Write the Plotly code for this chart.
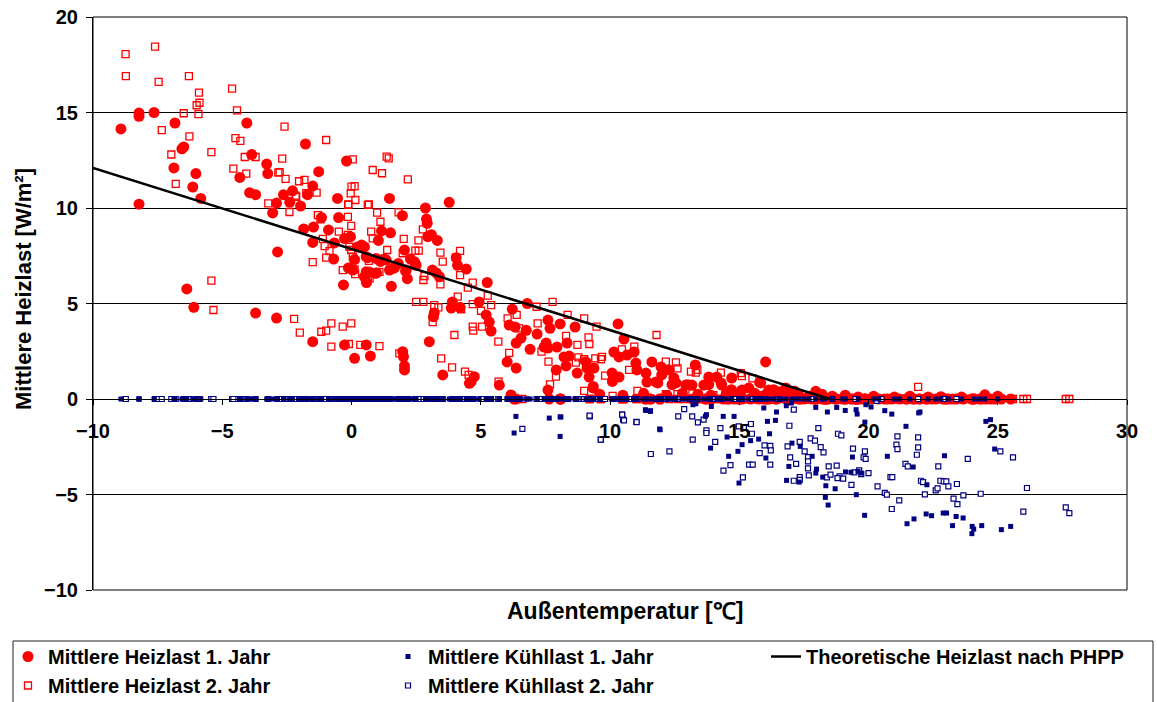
import plotly.graph_objects as go

# ---------------- Year 1 ----------------
# heating days: outdoor temperature [°C] / mean heating load [W/m²]
heat1_temp = [-8.92, -8.22, -8.22, -7.64, -8.22, -6.83, -6.87, -6.56, -6.49, -6.02, -6.14, -5.83, -6.37, -6.10,
              -4.05, -3.86, -4.32, -3.94, -3.71, -3.71, -3.28, -3.24, -3.05, -2.90, -2.86, -2.90, -2.63, -2.39,
              -2.28, -1.97, -1.78, -1.70, -1.50, -1.27, -1.85, -1.50, -1.47, -1.16, -0.89, -0.66, -0.69, -0.54,
              -0.50, -0.19, -0.31, -0.27, -0.04, -0.12, 0.12, 0.23, 0.50, 0.58, 0.62, 0.69, 0.97, 1.04, 1.12,
              1.16, 1.27, 1.47, 1.54, 1.51, 1.47, 1.66, 1.81, 1.97, 2.05, 2.16, 2.12, 2.28, 2.47, 2.86, 2.90,
              2.93, 3.09, 3.32, 3.13, 3.28, 3.40, 3.78, 4.05, 4.10, 3.90, 4.20, 3.17, 0.39, 4.44, 5.25, 3.86,
              4.94, 3.20, 5.21, 5.33, 5.40, 6.22, 6.80, 6.10, 6.33, 6.56, 6.37, 6.76, 6.02, 6.37, 7.18, 6.91,
              7.60, 7.68, 7.53, 7.60, 7.45, 8.07, 7.95, 8.65, 8.34, 7.92, 8.30, 8.73, 7.60, 8.22, 8.42, 9.07,
              9.11, 9.38, 9.19, 9.34, 10.31, 10.54, 10.15, 10.35, 10.66, 10.93, 10.08, 10.15, 10.35, 11.00,
              11.04, 11.39, 11.62, 11.43, 11.78, 11.97, 12.00, 12.28, 12.47, 12.55, 12.93, 13.30, 13.17, 13.63,
              13.82, 14.13, 14.32, 14.71, 15.10, 15.37, 15.83, 16.02, 16.14, 16.53, 16.80, 17.03,
              0.57, 0.95, 1.15, 1.34, 1.60, 0.57, 0.92, 0.05, 0.50, 2.95, 2.43, 2.50, 2.09,
              -1.50, -0.27, 0.57, 0.73, 0.12, 1.98, 2.01, 2.05, 2.05, 3.01, 3.53, 4.56, 4.63, 4.75, 5.72, 6.17,
              9.35, 10.09, 11.85, 12.40, 13.01, 13.82, 14.30, 14.70, 15.79, 16.33, 17.15, 17.96,
              9.60, 10.50, 11.30, 12.20, 12.80, 13.40, 13.90, 14.50, 15.00, 15.60, 16.00, 16.60, 17.30, 17.70,
              18.20, 18.60, 19.10, 19.60, 20.20, 21.00, 21.60, 22.30, 22.80, 23.60, 24.50, 25.00]
heat1_load = [14.14, 14.97, 14.80, 15.00, 10.20, 14.45, 12.10, 13.10, 13.20, 11.80, 11.10, 10.50, 5.76, 4.80,
              14.45, 12.80, 11.60, 10.80, 10.70, 4.50, 12.30, 11.80, 9.74, 10.26, 7.70, 4.24, 10.70, 10.30,
              10.90, 10.10, 13.35, 10.70, 11.15, 11.90, 8.90, 8.20, 9.00, 9.50, 8.85, 8.17, 7.33, 10.50,
              9.50, 12.46, 5.97, 8.40, 8.50, 6.86, 7.30, 7.96, 7.96, 6.10, 7.40, 6.65, 6.60, 8.30, 7.20,
              8.80, 7.33, 10.50, 5.90, 8.70, 6.75, 6.86, 7.10, 9.60, 7.80, 6.30, 6.75, 7.33, 7.07, 10.00, 9.42,
              9.20, 8.60, 8.30, 6.75, 6.60, 6.40, 10.30, 7.40, 7.00, 5.08, 4.80, 4.30, 8.06, 6.80, 6.10, 4.76,
              5.08, 4.50, 4.40, 4.03, 3.56, 4.70, 5.00, 3.87, 3.77, 3.19, 2.93, 3.60, 1.94, 1.62, 3.40, 2.60,
              4.13, 3.70, 2.93, 2.67, 2.72, 3.93, 2.72, 3.77, 2.93, 1.52, 1.73, 1.36, 0.47, 2.20, 2.25, 1.94,
              1.62, 1.62, 1.15, 0.58, 3.93, 3.14, 2.46, 2.20, 2.30, 2.46, 1.36, 1.10, 1.15, 1.88,
              1.52, 1.36, 1.94, 0.89, 0.89, 1.68, 1.26, 1.52, 1.10, 0.84, 0.73, 1.78, 0.73, 0.73,
              1.15, 1.15, 0.73, 1.10, 0.47, 0.58, 0.84, 1.94, 0.47, 0.37, 0.58, 0.31,
              7.45, 7.36, 7.28, 7.28, 6.84, 6.66, 6.58, 6.75, 6.40, 8.50, 7.19, 7.00, 6.70,
              3.00, 2.83, 2.83, 2.25, 2.13, 2.48, 2.21, 1.74, 1.52, 3.00, 1.26, 0.82, 0.91, 1.17, 0.73, 0.21,
              0.66, 0.92, 0.84, 0.75, 0.75, 0.75, 0.84, 0.49, 0.87, 0.49, 0.40, 0.40,
              0.25, 0.20, 0.30, 0.20, 0.30, 0.25, 0.20, 0.30, 0.20, 0.30, 0.20, 0.25, 0.20, 0.15,
              0.25, 0.15, 0.20, 0.10, 0.15, 0.10, 0.15, 0.10, 0.12, 0.10, 0.22, 0.15]

# cooling days: outdoor temperature [°C] / mean cooling load [W/m²] (negative)
cool1_temp = [6.36, 6.29, 7.65, 8.07, 8.07, 8.10, 11.37, 11.57, 11.92, 11.38, 11.56, 11.94, 13.21, 13.32, 13.92,
              13.69, 13.73, 14.38, 14.80, 14.53, 13.89, 14.59, 14.95, 15.11, 15.44, 14.99, 15.75, 15.95,
              16.09, 16.40, 16.44, 16.17, 16.03, 16.82, 17.01, 17.04, 17.36, 17.82, 16.92, 16.83, 17.32,
              17.96, 18.41, 18.77, 19.10, 19.52, 19.56, 17.96, 18.23, 17.99, 18.35, 18.71, 18.33, 18.44,
              19.11, 19.32, 19.59, 19.72, 19.38, 19.53, 19.85, 19.90, 20.10, 20.63, 20.90, 19.86, 20.73,
              21.45, 21.94, 21.99, 21.73, 22.26, 21.49, 21.76, 22.23, 22.44, 22.94, 22.89, 23.02, 23.39,
              23.66, 23.25, 24.01, 24.07, 24.00, 24.38, 24.54, 24.72, 24.88, 25.14, 25.50]
cool1_load = [-0.91, -1.78, -1.00, -0.94, -1.96, -0.94, -0.56, -0.61, -1.57, -0.60, -0.65, -1.61, -0.30, -0.25, -0.39,
              -0.91, -0.82, -0.91, -0.91, -1.99, -2.57, -3.00, -2.74, -2.39, -2.18, -4.40, -2.10, -0.47,
              -1.17, -1.12, -0.68, -1.82, -3.09, -0.35, -0.21, -2.31, -2.48, -3.00, -3.53, -4.26, -4.35,
              -0.44, -0.68, -0.44, -0.60, -0.56, -0.79, -3.88, -4.09, -3.67, -4.54, -4.70, -5.15, -5.55,
              -3.82, -3.84, -3.79, -3.88, -3.04, -5.01, -6.09, -0.30, -0.42, -0.61, -0.79, -1.21, -3.00,
              -1.43, -0.73, -0.68, -3.56, -4.49, -6.53, -6.28, -6.02, -6.11, -2.97, -5.97, -5.97, -6.15,
              -6.23, -6.63, -6.67, -6.81, -7.05, -6.63, -1.17, -1.08, -2.62, -6.84, -6.67]

# days without heating or cooling load
idle1_temp = [17.5, 18.3, 19.0, 20.4, 21.2, 22.6, 23.1, 24.1, 24.3]

# ---------------- Year 2 ----------------
heat2_temp = [-8.74, -8.73, -7.60, -7.46, -7.34, -6.49, -6.29, -6.27, -6.97, -6.80, -5.99, -5.88, -5.90, -5.92,
              -5.42, -5.42, -5.34, -4.62, -4.43, -4.49, -4.30, -4.57, -4.13, -4.07, -3.71, -2.59, -2.68, -2.83,
              -2.78, -2.55, -3.22, -2.40, -2.16, -2.03, -1.82, -1.35, -0.98, -1.75, -2.14, -1.30, -1.20, -1.11,
              -1.04, -0.85, -0.98, -1.50, -0.49, -0.13, -0.14, -0.01, -0.03, 0.00, 0.12, 0.05, -0.08, -0.01,
              0.05, -0.14, 0.14, 0.67, 0.76, 0.82, 0.99, 0.82, 1.18, 1.36, 1.44, 1.38, 1.82, 2.18, 2.02, 1.98,
              2.60, 2.47, 2.76, 3.44, 2.82, 2.78, 3.44, 2.50, 2.78, 3.20, 3.36, -0.12, 0.15, 0.63, 1.12, 0.09,
              0.67, 2.59, 3.53, -0.34, 0.12, 1.08, 0.63, 0.70, 4.20, 4.04, 4.20, 4.50, 4.69, 3.14, 3.20, 4.11,
              4.24, 4.69, 5.01, 5.27, 5.40, 4.69, 5.05, 4.71, 3.98, 3.47, 3.89, 4.39, 4.53, 5.68, 1.85, -2.00,
              -0.78, -0.34, -0.01, -1.17, -0.98, -0.78, -0.10, 0.34, 1.08, 5.69, 6.04, 6.39, 6.10, 6.49, 7.20,
              7.16, 7.78, 8.36, 9.00, 9.48, 8.30, 8.74, 9.17, 9.20, 7.35, 7.62, 7.91, 7.68, 8.68, 8.78, 9.00,
              9.43, 9.65, 9.69, 9.81, 10.46, 10.94, 11.80, 10.74, 12.16, 12.55, 12.61, 13.13, 13.32, 13.38,
              14.29, 15.06, 15.51, 15.10, 9.00, 11.06, 12.16, 12.61, 13.19, 10.10, 21.92, -2.22,
              14.00, 14.80, 15.80, 16.50]
heat2_load = [18.06, 16.90, 18.45, 16.60, 14.08, 14.96, 16.90, 13.75, 12.80, 11.26, 15.38, 15.51, 16.04, 14.92,
              12.93, 6.20, 4.66, 16.25, 15.11, 13.66, 13.51, 12.06, 12.67, 11.80, 12.67, 14.26, 12.58, 11.85,
              11.88, 11.53, 10.24, 9.79, 10.65, 11.40, 11.47, 10.80, 13.56, 10.78, 10.59, 9.63, 9.41, 8.38,
              8.00, 7.75, 7.40, 7.17, 8.76, 10.19, 9.54, 9.06, 10.77, 11.12, 11.15, 12.55, 7.97, 7.80,
              7.45, 8.59, 6.54, 10.19, 8.76, 8.41, 9.76, 11.99, 11.82, 12.69, 12.60, 7.80, 9.77, 11.50, 8.38, 7.63,
              7.77, 7.77, 8.88, 7.66, 6.44, 6.23, 6.00, 5.09, 5.09, 4.92, 4.80, 10.16, 10.42, 10.16, 9.28, 7.28,
              7.23, 8.30, 7.19, 6.75, 6.79, 6.66, 6.23, 6.32, 7.76, 7.42, 6.49, 5.83, 6.09, 4.03, 4.49, 5.36,
              4.70, 4.97, 4.62, 5.41, 4.92, 3.79, 3.79, 3.58, 3.35, 2.13, 1.66, 1.43, 1.26, 3.00, 2.39, 3.47,
              3.96, 3.79, 3.96, 3.52, 3.58, 2.74, 2.88, 2.83, 2.77, 0.91, 4.22, 4.40, 2.42, 3.70, 3.96,
              4.83, 5.09, 4.40, 4.22, 3.79, 3.30, 2.83, 3.23, 2.88, 2.48, 1.96, 1.17, 0.77, 1.90, 2.18, 2.08,
              2.13, 2.08, 2.21, 1.22, 2.60, 2.74, 3.35, 1.52, 1.96, 1.92, 1.60, 1.43, 1.38, 1.52,
              1.38, 1.35, 1.08, 1.20, 0.43, 0.43, 0.26, 0.26, 0.30, 0.16, 0.63, 4.19,
              0.20, 0.15, 0.20, 0.10]

cool2_temp = [6.61, 9.22, 9.65, 10.47, 10.51, 11.02, 9.21, 9.64, 10.47, 10.54, 11.03, 11.58, 12.30, 12.64, 12.87,
              13.18, 13.40, 13.62, 13.73, 13.73, 13.20, 14.07, 14.27, 14.39, 14.66, 15.14, 14.98, 15.18,
              15.45, 15.49, 15.38, 15.52, 15.79, 15.98, 16.20, 16.22, 16.20, 16.94, 16.87, 16.97, 17.11,
              17.20, 17.34, 17.34, 17.34, 17.11, 17.53, 17.66, 17.66, 17.69, 17.76, 17.93, 18.06, 17.66,
              18.15, 18.26, 18.46, 18.77, 18.39, 18.53, 18.88, 19.02, 18.80, 18.82, 18.95, 19.34, 19.40,
              19.45, 19.64, 19.72, 19.81, 19.89, 19.86, 20.00, 20.31, 20.35, 20.63, 20.71, 20.85, 20.92,
              20.90, 21.08, 21.12, 21.12, 21.19, 21.43, 21.52, 21.87, 21.92, 21.92, 22.03, 22.11, 22.18,
              22.60, 22.67, 22.70, 22.78, 22.91, 23.01, 23.09, 23.29, 23.42, 23.44, 23.67, 23.84, 24.34,
              25.10, 25.59, 25.99, 26.13, 27.63, 27.77]
cool2_load = [-1.56, -0.91, -2.13, -0.82, -1.08, -1.20, -0.87, -2.13, -0.82, -1.12, -1.21, -2.88, -2.74, -0.91, -0.53,
              -0.91, -1.22, -1.08, -1.64, -1.78, -2.13, -2.24, -1.52, -3.75, -3.46, -4.10, -1.43, -1.47,
              -1.31, -1.82, -3.44, -3.44, -2.83, -2.43, -2.45, -2.69, -3.44, -1.40, -2.48, -3.06, -0.56,
              -3.40, -2.24, -4.09, -4.23, -4.28, -2.74, -3.04, -3.27, -4.00, -2.06, -2.18, -1.52, -3.63,
              -2.52, -2.79, -3.53, -3.49, -4.10, -3.96, -4.05, -4.17, -4.14, -1.82, -1.90, -4.50, -2.60,
              -3.84, -3.74, -3.93, -3.06, -3.14, -2.74, -3.88, -0.10, -4.57, -4.92, -5.01, -4.09, -4.09,
              -5.76, -2.39, -2.62, -1.96, -5.31, -3.40, -3.53, -2.92, -2.01, -2.53, -4.28, -4.35, -4.99,
              -4.78, -4.68, -3.53, -4.28, -4.31, -4.31, -4.57, -5.22, -4.45, -5.50, -5.05, -3.14, -4.96,
              -2.74, -3.06, -5.90, -4.66, -5.67, -5.97]

idle2_temp = [16.5, 17.8, 18.6, 19.5, 20.5, 22.9, 23.4]

# ---------------- PHPP design line ----------------
theo_temp = [-10.0, 18.5]
theo_load = [12.1, 0.0]

# ---------------- series assembly ----------------
days1_temp = heat1_temp + cool1_temp + idle1_temp
heiz1 = heat1_load + [0.0] * (len(cool1_temp) + len(idle1_temp))
kuehl1 = [0.0] * len(heat1_temp) + cool1_load + [0.0] * len(idle1_temp)

days2_temp = heat2_temp + cool2_temp + idle2_temp
heiz2 = heat2_load + [0.0] * (len(cool2_temp) + len(idle2_temp))
kuehl2 = [0.0] * len(heat2_temp) + cool2_load + [0.0] * len(idle2_temp)

RED = "#FF0000"
NAVY = "#000080"
FONT = "Liberation Sans, Arial, sans-serif"

# figure fills the window (body margin removed by the post script below)
W, H = 1157, 702
ML, MR, MT, MB = 93, 30, 17, 112
PW = W - ML - MR          # plot width
PH = H - MT - MB          # plot height


def px_x(page_x):
    return (page_x - ML) / PW


def px_y(page_y):
    return (H - MB - page_y) / PH


fig = go.Figure()
fig.add_trace(go.Scatter(x=days1_temp, y=heiz1, mode="markers", name="Mittlere Heizlast 1. Jahr",
                         marker=dict(symbol="circle", size=11, color=RED, line=dict(width=0)),
                         legendrank=1))
fig.add_trace(go.Scatter(x=days2_temp, y=heiz2, mode="markers", name="Mittlere Heizlast 2. Jahr",
                         marker=dict(symbol="square-open", size=7, color=RED, line=dict(width=1.3)),
                         legendrank=3))
fig.add_trace(go.Scatter(x=days2_temp, y=kuehl2, mode="markers", name="Mittlere Kühllast 2. Jahr",
                         marker=dict(symbol="square", size=5, color="white", line=dict(width=1.2, color=NAVY)),
                         legendrank=4))
fig.add_trace(go.Scatter(x=days1_temp, y=kuehl1, mode="markers", name="Mittlere Kühllast 1. Jahr",
                         marker=dict(symbol="square", size=5, color=NAVY, line=dict(width=0)),
                         legendrank=2))
fig.add_trace(go.Scatter(x=theo_temp, y=theo_load, mode="lines", name="Theoretische Heizlast nach PHPP",
                         line=dict(color="black", width=2.5), legend="legend2"))

legend_font = dict(family=FONT, size=20, color="black", weight="bold")
leg_y = px_y(637)
tick_font = dict(family=FONT, size=20, color="black", weight="bold")

fig.update_layout(
    width=W, height=H,
    margin=dict(l=ML, r=MR, t=MT, b=MB, autoexpand=False),
    paper_bgcolor="white", plot_bgcolor="white",
    font=dict(family=FONT, size=20, color="black", weight="bold"),
    showlegend=True,
    legend=dict(orientation="h", x=px_x(8), xanchor="left", y=leg_y, yanchor="top",
                borderwidth=0, bgcolor="rgba(0,0,0,0)",
                entrywidth=335, entrywidthmode="pixels",
                font=legend_font, traceorder="normal"),
    legend2=dict(orientation="h", x=px_x(766), xanchor="left", y=leg_y, yanchor="top",
                 borderwidth=0, bgcolor="rgba(0,0,0,0)", font=legend_font),
    xaxis=dict(range=[-10, 30], tick0=0, dtick=5, anchor="free", position=1/3,
               showgrid=False, zeroline=False, showline=True, linecolor="black", linewidth=1,
               ticks="outside", ticklen=5, tickcolor="black", ticklabelstandoff=9,
               ticklabeloverflow="allow", tickfont=tick_font),
    yaxis=dict(range=[-10, 20], tick0=0, dtick=5, showgrid=True, gridcolor="black", gridwidth=1,
               zeroline=False, showline=True, linecolor="black", linewidth=1,
               ticks="outside", ticklen=6, tickcolor="black", ticklabelstandoff=4,
               ticklabeloverflow="allow", tickfont=tick_font),
    shapes=[
        dict(type="rect", xref="paper", yref="paper", x0=0, x1=1, y0=0, y1=1,
             line=dict(color="black", width=1), layer="above"),
        dict(type="rect", xref="paper", yref="paper", x0=px_x(13), x1=px_x(1153),
             y0=px_y(641), y1=px_y(720), line=dict(color="#202020", width=1), layer="above"),
    ],
    annotations=[
        dict(text="Außentemperatur [℃]", xref="paper", yref="paper", x=px_x(625), y=px_y(611),
             xanchor="center", yanchor="middle", showarrow=False,
             font=dict(family=FONT, size=23, color="black", weight="bold")),
        dict(text="Mittlere Heizlast [W/m²]", xref="paper", yref="paper", x=px_x(23), y=px_y(289),
             xanchor="center", yanchor="middle", showarrow=False, textangle=-90,
             font=dict(family=FONT, size=22, color="black", weight="bold")),
    ],
)

fig.write_html("out.html", config={"displayModeBar": False},
               post_script="document.body.style.margin='0';document.body.style.overflow='hidden';")
